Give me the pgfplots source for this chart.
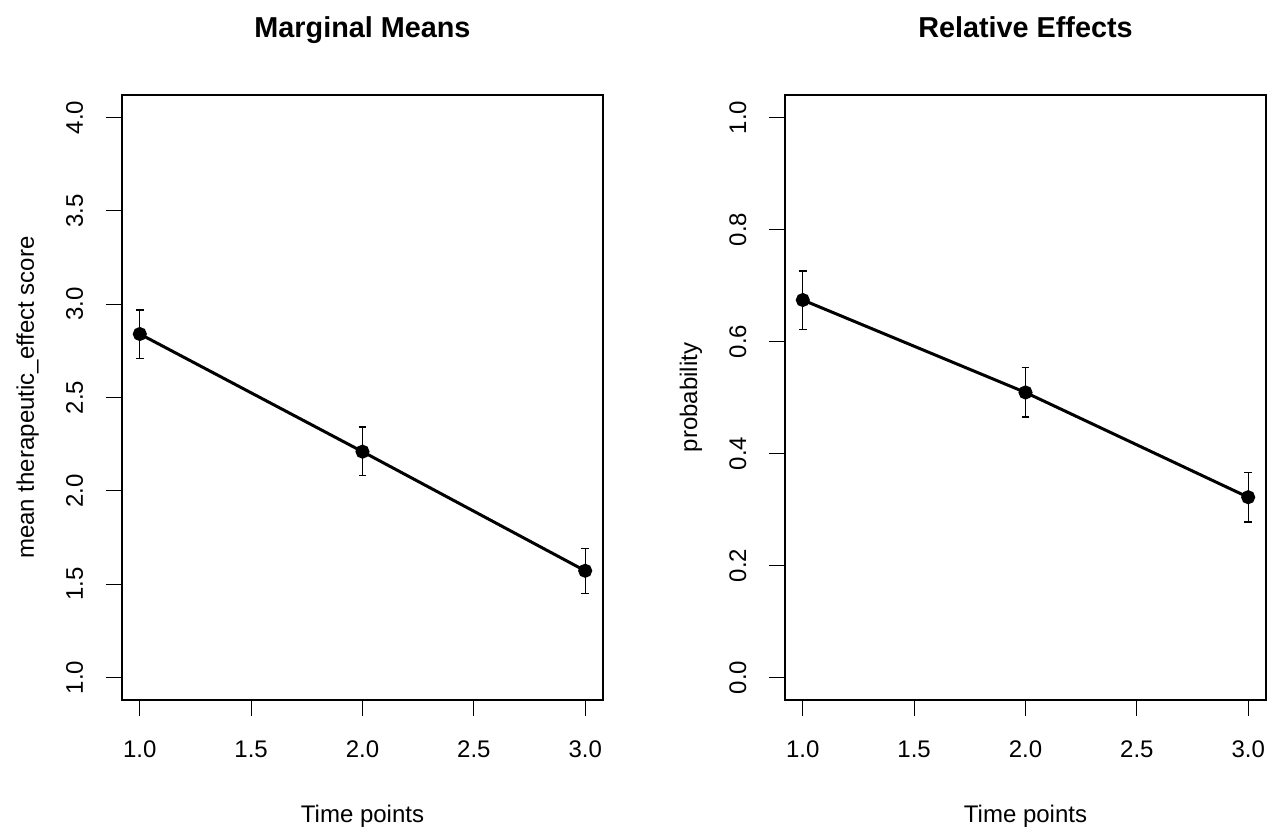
\documentclass[border=0pt]{standalone}
\usepackage{fontspec}
\setmainfont{Liberation Sans}
\usepackage{pgfplots}
\usepackage{pgfplotstable}
\pgfplotsset{compat=1.18}

\pgfplotstableread{
x y ep em
1 2.840 0.128 0.132
2 2.210 0.132 0.129
3 1.572 0.120 0.123
}\means
\pgfplotstableread{
x y ep em
1 0.674 0.052 0.052
2 0.509 0.045 0.044
3 0.322 0.044 0.044
}\releff

\pgfplotsset{
  rstyle/.style={
    scale only axis,
    width=240.5pt, height=302.5pt,
    xmin=0.92, xmax=3.08,
    axis line style={line width=0.8pt, black},
    tick pos=left,
    tick align=outside,
    major tick length=8pt,
    tick style={line width=0.6pt, black},
    xtick={1,1.5,2,2.5,3},
    /pgf/number format/assume math mode=true,
    /pgf/number format/.cd, fixed, fixed zerofill, precision=1, /pgfplots/.cd,
    tick label style={font=\fontsize{12}{14}\selectfont},
    xticklabel style={anchor=base, yshift=-20.65pt},
    yticklabel style={xshift=-11.5pt, rotate=90, anchor=base},
    label style={font=\fontsize{12}{14}\selectfont},
    title style={font=\bfseries\fontsize{14.4}{17}\selectfont,
      at={(axis description cs:0.5,1)}, anchor=base, yshift=22.8pt},
    xlabel style={at={(axis description cs:0.5,0)}, anchor=base, yshift=-61.2pt},
    ylabel style={at={([xshift=-44pt]axis description cs:0,0.5)}, rotate=0, anchor=base},
    xlabel={Time points},
  },
  rline/.style={
    black, line width=1.5pt, mark=*, mark size=2.75pt,
    mark options={solid, fill=black},
    error bars/.cd, y dir=both, y explicit,
    error bar style={line width=0.65pt, black},
    error mark options={line width=0.65pt, mark size=1.9pt, black, rotate=90},
  },
}

\begin{document}
\begin{tikzpicture}
\path[use as bounding box] (-61pt,-65pt) rectangle (574pt,350pt);
\begin{axis}[rstyle,
  at={(0,0)}, anchor=south west,
  ymin=0.88, ymax=4.12,
  ytick={1,1.5,2,2.5,3,3.5,4},
  title={Marginal Means},
  ylabel={mean therapeutic\_effect score},
]
\addplot+[rline] table[x=x, y=y, y error plus=ep, y error minus=em] {\means};
\end{axis}
\begin{axis}[rstyle,
  at={(331.5pt,0)}, anchor=south west,
  ymin=-0.04, ymax=1.04,
  ytick={0,0.2,0.4,0.6,0.8,1},
  title={Relative Effects},
  ylabel={probability},
]
\addplot+[rline] table[x=x, y=y, y error plus=ep, y error minus=em] {\releff};
\end{axis}
\end{tikzpicture}
\end{document}
